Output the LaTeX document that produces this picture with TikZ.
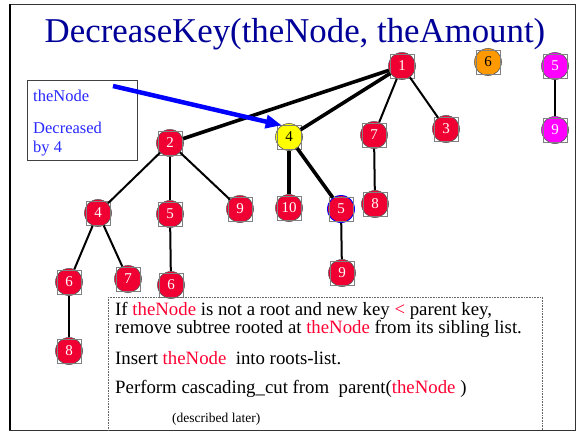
\documentclass[tikz,border=0pt]{standalone}
\usepackage{fontspec}
\setmainfont{Liberation Serif}
\usetikzlibrary{arrows.meta}
\definecolor{nodered}{RGB}{240,0,50}
\definecolor{txtred}{RGB}{255,0,51}
\definecolor{nodeyellow}{RGB}{255,255,0}
\definecolor{nodeorange}{RGB}{255,153,0}
\definecolor{nodemagenta}{RGB}{255,0,255}
\definecolor{titleblue}{RGB}{0,0,153}
\definecolor{noteblue}{RGB}{40,40,255}
\begin{document}
\begin{tikzpicture}[x=1pt,y=-1pt,
  heapnode/.style={circle, draw=black!65, line width=0.6pt, minimum size=27pt,
    inner sep=0pt, fill=nodered, text=white, font=\fontsize{15}{15}\selectfont},
  yellownode/.style={heapnode, fill=nodeyellow, text=black},
  orangenode/.style={heapnode, fill=nodeorange, text=black},
  magentanode/.style={heapnode, fill=nodemagenta},
  thinedge/.style={line width=2pt},
  thickedge/.style={line width=3.6pt},
  sqbox/.style={draw=black!50, line width=0.4pt},
  bodytext/.style={anchor=base west, inner sep=0pt, font=\fontsize{18.8}{18.8}\selectfont}]
\useasboundingbox (0,0) rectangle (578,431);
\fill[white] (0,0) rectangle (578,431);

% slide frame
\draw[black!80, line width=0.8pt] (9.5,4) rectangle (575,430);
\draw[black, line width=2pt] (9.5,4) -- (9.5,430);

% title
\node[anchor=base, inner sep=0pt, text=titleblue, font=\fontsize{34.8}{34.8}\selectfont]
  (title) at (295,42) {DecreaseKey(theNode, theAmount)};

% heap nodes
\node[heapnode]    (r1)  at (402,66)  {1};
\node[orangenode]  (r6)  at (488,62)  {6};
\node[magentanode] (m5)  at (555,66)  {5};
\node[magentanode] (m9)  at (555,130) {9};
\node[heapnode]    (n7)  at (374,135) {7};
\node[heapnode]    (n3)  at (446,129) {3};
\node[yellownode]  (y4)  at (289,137) {4};
\node[heapnode]    (n2)  at (170,143) {2};
\node[heapnode]    (n8)  at (375,204) {8};
\node[heapnode]    (n10) at (289,208) {10};
\node[heapnode, draw=blue, line width=0.9pt] (n5) at (341,209) {5};
\node[heapnode]    (n9b) at (342,273) {9};
\node[heapnode]    (a4)  at (98,213)  {4};
\node[heapnode]    (a5)  at (170,214) {5};
\node[heapnode]    (a9)  at (240,209) {9};
\node[heapnode]    (a6)  at (69,282)  {6};
\node[heapnode]    (a7)  at (128,279) {7};
\node[heapnode]    (b6)  at (171,285) {6};
\node[heapnode]    (a8)  at (69,351)  {8};

% text frames around the keys
\foreach \n in {r1,r6,m5,m9,n7,n3,y4,n2,n8,n10,n5,n9b,a4,a5,a9,a6,a7,b6,a8}
  \draw[sqbox] ([shift={(-12,-12)}]\n.center) rectangle ([shift={(12,12)}]\n.center);

% links
\draw[thickedge] (r1) -- (n2);
\draw[thickedge] (r1) -- (y4);
\draw[thinedge] (r1) -- (n7);
\draw[thinedge] (r1) -- (n3);
\draw[thinedge] (m5) -- (m9);
\draw[thinedge] (n7) -- (n8);
\draw[thickedge] (y4) -- (n10);
\draw[thickedge] (y4) -- (n5);
\draw[thinedge] (n5) -- (n9b);
\draw[thinedge] (n2) -- (a4);
\draw[thinedge] (n2) -- (a5);
\draw[thinedge] (n2) -- (a9);
\draw[thinedge] (a4) -- (a6);
\draw[thinedge] (a4) -- (a7);
\draw[thinedge] (a6) -- (a8);
\draw[thinedge] (a5) -- (b6);

% note box
\draw[black!75, line width=0.8pt] (27,80) rectangle (137,160);
\node[anchor=base west, inner sep=0pt, text=noteblue, font=\fontsize{16.5}{16.5}\selectfont]
  (note1) at (33,101) {theNode};
\node[anchor=base west, inner sep=0pt, text=noteblue, font=\fontsize{16.5}{16.5}\selectfont]
  (note2) at (33,133) {Decreased};
\node[anchor=base west, inner sep=0pt, text=noteblue, font=\fontsize{16.5}{16.5}\selectfont]
  (note3) at (33,152) {by 4};
\coordinate (arrstart) at (113,86);
\draw[blue, line width=4.5pt, -{Triangle[length=16pt,width=13pt]}] (arrstart) -- (y4.122);

% description box
\draw[black!60, line width=0.6pt, densely dotted] (108,297) -- (542,297) -- (542,430);
\draw[black!60, line width=0.6pt, densely dotted] (108,297) -- (108,430);
\node[bodytext] (t1) at (115,315)
  {If \textcolor{txtred}{theNode} is not a root and new key \textcolor{txtred}{<} parent key,};
\node[bodytext] (t2) at (115,333)
  {remove subtree rooted at \textcolor{txtred}{theNode} from its sibling list.};
\node[bodytext] (t3) at (115,364)
  {Insert \textcolor{txtred}{theNode}\ \ into roots-list.};
\node[bodytext] (t4) at (115,393)
  {Perform cascading\_cut from\ \ parent(\textcolor{txtred}{theNode} )};
\node[anchor=base west, inner sep=0pt, font=\fontsize{13.5}{13.5}\selectfont]
  (t5) at (172,422) {(described later)};
\end{tikzpicture}
\end{document}
